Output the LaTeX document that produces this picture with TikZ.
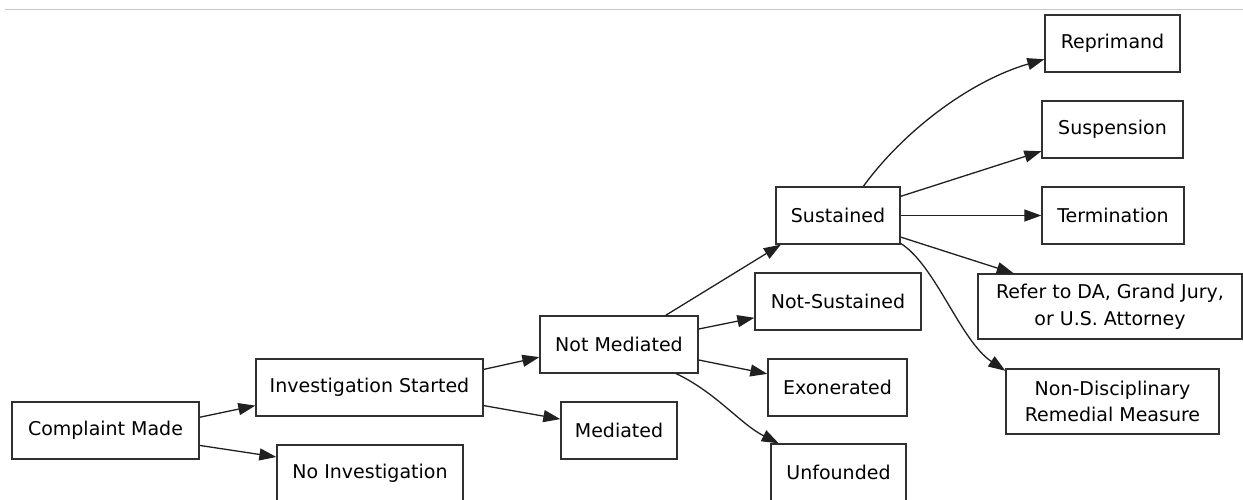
\documentclass[tikz,border=0pt]{standalone}
\usepackage{fontspec}
\setmainfont{DejaVu Sans}
\usetikzlibrary{arrows.meta}
\definecolor{boxcol}{HTML}{303030}
\definecolor{edgecol}{HTML}{202020}
\definecolor{sepcol}{HTML}{C8C8C8}
\begin{document}
\begin{tikzpicture}[x=1pt,y=-1pt,
  box/.style={draw=boxcol, line width=1.3pt, fill=white, inner sep=0pt, align=center,
    font=\fontsize{19}{26.7}\selectfont},
  edge/.style={draw=edgecol, line width=1.3pt, -{Triangle[length=17pt,width=12pt]}}]
\clip (0,0) rectangle (1243,500);
\fill[white] (0,0) rectangle (1243,500);
\draw[sepcol, line width=1.5pt] (5,9.5) -- (1243,9.5);

\node[box, minimum width=187pt, minimum height=57pt] (cm) at (105.5,430.5) {Complaint Made};
\node[box, minimum width=227pt, minimum height=57pt] (is) at (369.5,387.5) {Investigation Started};
\node[box, minimum width=186pt, minimum height=57pt] (ni) at (370,473.5) {No Investigation};
\node[box, minimum width=158pt, minimum height=57pt] (nm) at (619,344.5) {Not Mediated};
\node[box, minimum width=116pt, minimum height=57pt] (med) at (619,430.5) {Mediated};
\node[box, minimum width=166pt, minimum height=57pt] (ns) at (838,301.5) {Not-Sustained};
\node[box, minimum width=139pt, minimum height=57pt] (ex) at (837.5,387.5) {Exonerated};
\node[box, minimum width=135pt, minimum height=57pt] (un) at (838.5,472.5) {Unfounded};
\node[box, minimum width=124pt, minimum height=57pt] (su) at (838,215.5) {Sustained};
\node[box, minimum width=142pt, minimum height=57pt] (te) at (1113,215.5) {Termination};
\node[box, minimum width=264pt, minimum height=65pt] (rf) at (1110,306.5) {Refer to DA, Grand Jury,\\or U.S. Attorney};
\node[box, minimum width=213pt, minimum height=65pt] (nd) at (1112.5,401.5) {Non-Disciplinary\\Remedial Measure};
\node[box, minimum width=135pt, minimum height=57pt] (rp) at (1112.5,43.5) {Reprimand};
\node[box, minimum width=141pt, minimum height=57pt] (sp) at (1112.5,129.5) {Suspension};

\draw[edge] (cm.8.8) -- (is.189.3);
\draw[edge] (cm.-9.4) -- (ni.170.5);
\draw[edge] (is.9.75) -- (nm.189.7);
\draw[edge] (is.-9.26) -- (med.169.7);
\draw[edge] (nm.32.9) -- (su.207);
\draw[edge] (nm.11.1) -- (ns.191.2);
\draw[edge] (nm.-11.1) -- (ex.169);
\draw[edge] (nm.-27) .. controls +(40,19) and +(-38,-19) .. (un.154.8);
\draw[edge] (su.49.9) .. controls +(40,-55) and +(-75,22) .. (rp.193.7);
\draw[edge] (su.17.5) -- (sp.197.7);
\draw[edge] (su.east) -- (te.west);
\draw[edge] (su.-19.1) -- (rf.161.5);
\draw[edge] (su.-24.7) .. controls +(35,22) and +(-45,-30) .. (nd.164.4);
\end{tikzpicture}
\end{document}
